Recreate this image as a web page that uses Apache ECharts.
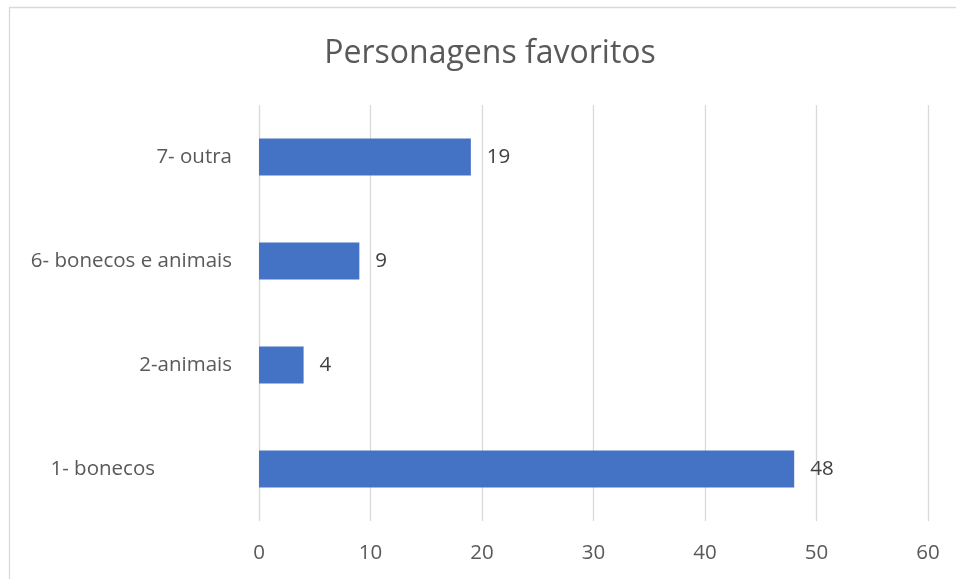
<!DOCTYPE html>
<html>
<head>
<meta charset="utf-8">
<script src="https://cdn.jsdelivr.net/npm/echarts@6/dist/echarts.min.js"></script>
<style>
html,body{margin:0;padding:0;background:#fff;}
#chart{width:956px;height:579px;}
</style>
</head>
<body>
<div id="chart"></div>
<script>
const titleText = 'Personagens favoritos';
const categories = ['1- bonecos', '2-animais', '6- bonecos e animais', '7- outra'];
const values = [48, 4, 9, 19];
const xTicks = [0, 10, 20, 30, 40, 50, 60];

const FONT = '"Open Sans", "Noto Sans", sans-serif';
const FS = 20.5;
const chart = echarts.init(document.getElementById('chart'), null, {renderer: 'canvas'});
chart.setOption({
  backgroundColor: '#ffffff',
  animation: false,
  graphic: [{
    type: 'rect',
    shape: {x: 9.5, y: 7.5, width: 980, height: 600},
    style: {fill: 'none', stroke: '#d9d9d9', lineWidth: 1.3},
    silent: true,
    z: -1
  }],
  title: {
    text: titleText,
    left: 485,
    textAlign: 'center',
    top: 33,
    textStyle: {fontFamily: FONT, fontSize: 32, fontWeight: 'normal', color: '#595959'}
  },
  grid: {left: 259, right: 28, top: 105, bottom: 58, containLabel: false},
  xAxis: {
    type: 'value',
    min: xTicks[0],
    max: xTicks[xTicks.length - 1],
    interval: xTicks[1] - xTicks[0],
    axisLine: {show: false},
    axisTick: {show: false},
    splitLine: {show: true, lineStyle: {color: '#d9d9d9', width: 1.3}},
    axisLabel: {margin: 22, fontFamily: FONT, fontSize: FS, color: '#595959'}
  },
  yAxis: {
    type: 'category',
    data: categories,
    axisLine: {show: false},
    axisTick: {show: false},
    axisLabel: {
      margin: 27,
      fontFamily: FONT,
      fontSize: FS,
      color: '#595959',
      formatter: function (v, i) { return i === 0 ? '{shift|' + v + '}' : v; },
      rich: {shift: {fontFamily: FONT, fontSize: FS, color: '#595959', padding: [0, 77, 0, 0]}}
    }
  },
  series: [{
    type: 'bar',
    data: values,
    barWidth: 37,
    itemStyle: {color: '#4472C4'},
    label: {
      show: true,
      position: 'right',
      distance: 16,
      fontFamily: FONT,
      fontSize: FS,
      color: '#404040'
    }
  }]
});
</script>
</body>
</html>
